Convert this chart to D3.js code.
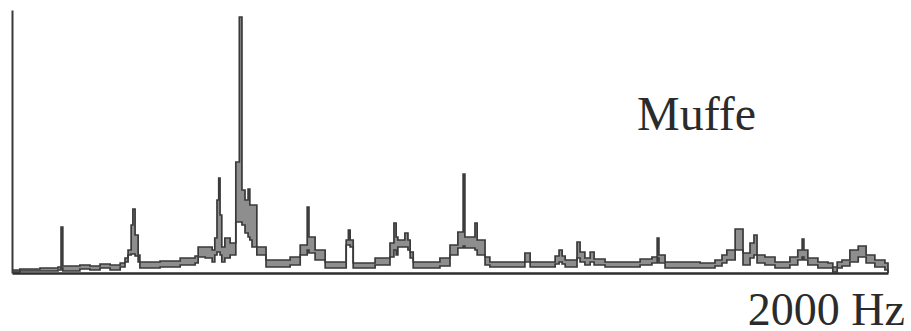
<!DOCTYPE html>
<html>
<head>
    <meta charset="utf-8">
    <script src="https://d3js.org/d3.v7.min.js"></script>
    <style>
        body { margin: 0; background: #fff; }
        svg text { font-family: 'Liberation Serif', 'DejaVu Serif', serif; fill: #2b2b2b; }
    </style>
</head>
<body>
    <svg width="911" height="331"></svg>
    <script>
        // spectrum steps: start frequency (Hz), upper and lower envelope (arbitrary level)
        var freqHz = [0, 18, 64, 105, 112, 116, 155, 178, 201, 224, 247, 258, 265, 272, 276, 281, 288, 292, 338, 384,
            418, 425, 441, 457, 463, 468, 472, 475, 479, 486, 498, 511, 519, 525, 532, 539, 543, 548, 559, 580,
            635, 658, 674, 678, 692, 715, 763, 768, 772, 779, 829, 863, 872, 877, 881, 897, 904, 909, 916, 977,
            1000, 1018, 1030, 1034, 1057, 1062, 1080, 1091, 1171, 1183, 1240, 1249, 1256, 1263, 1290, 1297, 1308, 1320, 1329, 1354,
            1434, 1461, 1473, 1477, 1491, 1571, 1605, 1621, 1632, 1651, 1669, 1685, 1694, 1701, 1719, 1742, 1776, 1794, 1804, 1808,
            1817, 1840, 1863, 1874, 1884, 1895, 1913, 1932, 1950, 1970, 1993, 2000];
        var upper = [3, 4, 5, 6, 46, 7, 8, 7, 9, 8, 10, 15, 23, 48, 64, 38, 18, 11, 12, 15,
            17, 26, 26, 23, 35, 73, 95, 58, 26, 35, 30, 111, 256, 83, 73, 84, 68, 68, 26, 13,
            16, 28, 66, 36, 23, 11, 33, 43, 33, 10, 15, 30, 50, 36, 33, 40, 33, 21, 11, 15,
            28, 41, 99, 36, 50, 33, 16, 11, 20, 11, 17, 23, 17, 13, 31, 21, 15, 21, 14, 11,
            14, 16, 35, 18, 11, 10, 13, 18, 23, 44, 20, 30, 38, 18, 16, 11, 16, 23, 34, 23,
            15, 11, 10, 6, 11, 13, 23, 27, 18, 13, 10, 0];
        var lower = [1, 2, 2, 3, 5, 2, 4, 3, 5, 3, 6, 11, 18, 19, 19, 17, 11, 5, 6, 8,
            10, 16, 15, 11, 18, 21, 21, 18, 11, 15, 18, 51, 51, 48, 40, 36, 33, 26, 18, 6,
            8, 18, 23, 20, 13, 5, 28, 28, 26, 5, 8, 16, 23, 18, 26, 26, 23, 15, 5, 7,
            18, 25, 27, 25, 23, 18, 8, 6, 11, 6, 9, 11, 9, 6, 15, 11, 8, 11, 8, 6,
            8, 10, 15, 10, 5, 5, 7, 10, 13, 23, 8, 15, 18, 10, 8, 5, 8, 13, 16, 13,
            8, 5, 5, 1, 5, 7, 11, 16, 10, 6, 3, 0];
        var levelMax = 263;
        var title = "Muffe";
        var xLabel = "2000 Hz";

        var svg = d3.select("svg");
        var plotLeft = 12, plotRight = 888, plotTop = 10, plotBottom = 273;

        var x = d3.scaleLinear().domain([0, 2000]).range([plotLeft, plotRight]);
        var y = d3.scaleLinear().domain([0, levelMax]).range([plotBottom, plotTop]);

        var data = freqHz.map(function (f, i) {
            return { f: f, hi: upper[i], lo: lower[i] };
        });

        // grey band between the two envelopes
        var band = d3.area()
            .curve(d3.curveStepAfter)
            .x(d => x(d.f))
            .y0(d => y(d.lo))
            .y1(d => y(d.hi));

        svg.append("path")
            .datum(data)
            .attr("d", band)
            .attr("fill", "#8e8e8e")
            .attr("stroke", "none");

        var lineHi = d3.line().curve(d3.curveStepAfter).x(d => x(d.f)).y(d => y(d.hi));
        var lineLo = d3.line().curve(d3.curveStepAfter).x(d => x(d.f)).y(d => y(d.lo));

        [lineHi, lineLo].forEach(function (ln) {
            svg.append("path")
                .datum(data)
                .attr("d", ln)
                .attr("fill", "none")
                .attr("stroke", "#3a3a3a")
                .attr("stroke-width", 1.7);
        });

        // axes: bare lines, no ticks
        svg.append("g")
            .attr("transform", "translate(0," + plotBottom + ")")
            .call(d3.axisBottom(x).ticks(0).tickSizeOuter(0))
            .select(".domain").attr("stroke", "#2e2e2e").attr("stroke-width", 2.5);

        svg.append("g")
            .attr("transform", "translate(" + plotLeft + ",0)")
            .call(d3.axisLeft(y).ticks(0).tickSizeOuter(0))
            .select(".domain").attr("stroke", "#3a3a3a").attr("stroke-width", 2);

        svg.append("text")
            .attr("x", 637).attr("y", 130)
            .attr("font-size", 48)
            .text(title);

        svg.append("text")
            .attr("x", 905).attr("y", 325)
            .attr("text-anchor", "end")
            .attr("font-size", 46)
            .text(xLabel);
    </script>
</body>
</html>
